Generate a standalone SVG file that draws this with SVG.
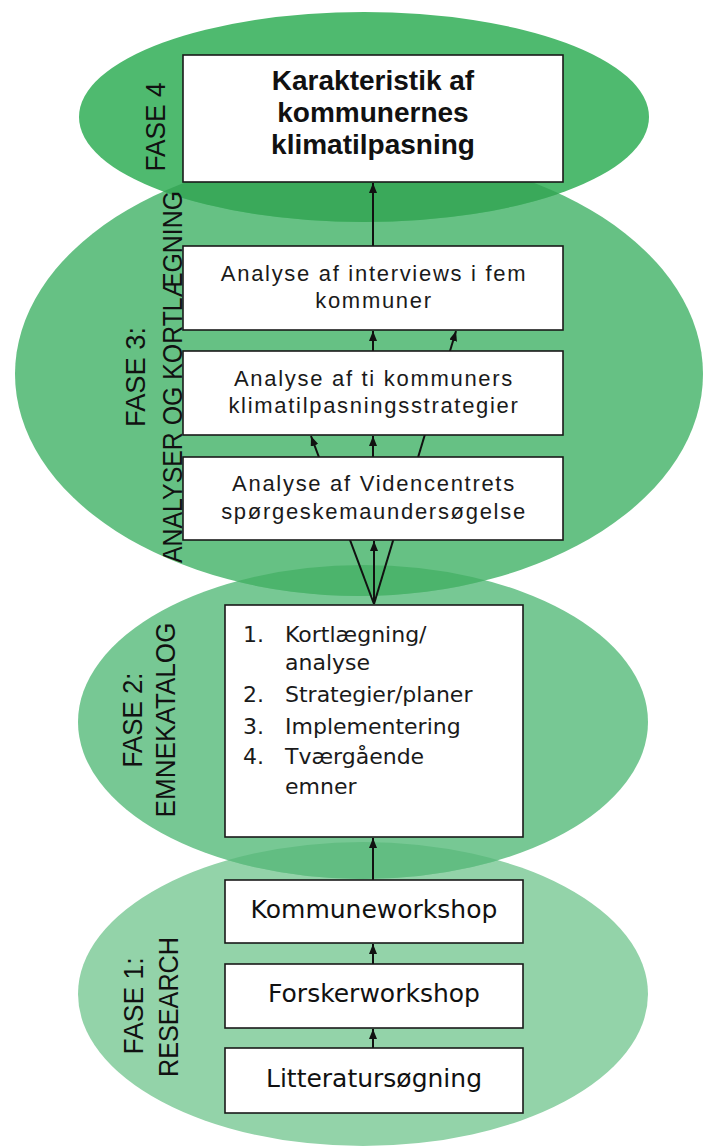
<svg xmlns="http://www.w3.org/2000/svg" width="704" height="1148" viewBox="0 0 704 1148">
<style>
.box{fill:#ffffff;stroke:#1a1a1a;stroke-width:1.6}
.conn{stroke:#111111;stroke-width:2;fill:none;marker-end:url(#ah)}
.t3{font-family:"Liberation Sans",Arial,sans-serif;font-size:22px;letter-spacing:1.7px;fill:#1a1a1a;text-anchor:middle}
.t4{font-family:"Liberation Sans",Arial,sans-serif;font-size:28px;font-weight:bold;fill:#111111;text-anchor:middle}
.t2{font-family:"DejaVu Sans",Verdana,sans-serif;font-size:22px;fill:#1a1a1a}
.t1{font-family:"DejaVu Sans",Verdana,sans-serif;font-size:25px;fill:#111111;text-anchor:middle}
.lab{font-family:"Liberation Sans",Arial,sans-serif;font-size:28px;fill:#111111;text-anchor:middle}
</style>
<defs>
<marker id="ah" viewBox="0 0 10 8" refX="10" refY="4" markerWidth="10" markerHeight="8" markerUnits="userSpaceOnUse" orient="auto">
<path d="M0,0 L10,4 L0,8 z" fill="#111111"/>
</marker>
<clipPath id="cE3"><ellipse cx="359" cy="374" rx="344" ry="222"/></clipPath>
<clipPath id="cE2"><ellipse cx="363" cy="722" rx="285" ry="157"/></clipPath>
</defs>
<rect width="704" height="1148" fill="#ffffff"/>
<g id="phases">
<ellipse id="phase1" cx="363" cy="994" rx="285" ry="152" fill="#93d3a9"/>
<ellipse id="phase2" cx="363" cy="722" rx="285" ry="157" fill="#77c894"/>
<ellipse id="phase3" cx="359" cy="374" rx="344" ry="222" fill="#66c184"/>
<ellipse id="phase4" cx="364" cy="117" rx="285" ry="105" fill="#4fba6f"/>
<ellipse cx="363" cy="994" rx="285" ry="152" fill="#62bd82" clip-path="url(#cE2)"/>
<ellipse cx="363" cy="722" rx="285" ry="157" fill="#4cb46c" clip-path="url(#cE3)"/>
<ellipse cx="364" cy="117" rx="285" ry="105" fill="#3aa95a" clip-path="url(#cE3)"/>
</g>
<g id="phase-labels">
<text class="lab" transform="translate(165,127) rotate(-90)" textLength="89" lengthAdjust="spacingAndGlyphs">FASE 4</text>
<text class="lab" transform="translate(145,377) rotate(-90)" textLength="100" lengthAdjust="spacingAndGlyphs">FASE 3:</text>
<text class="lab" transform="translate(182,377) rotate(-90)" textLength="372" lengthAdjust="spacingAndGlyphs">ANALYSER OG KORTLÆGNING</text>
<text class="lab" transform="translate(142,720) rotate(-90)" textLength="95" lengthAdjust="spacingAndGlyphs">FASE 2:</text>
<text class="lab" transform="translate(175,720) rotate(-90)" textLength="195" lengthAdjust="spacingAndGlyphs">EMNEKATALOG</text>
<text class="lab" transform="translate(143,1006) rotate(-90)" textLength="97" lengthAdjust="spacingAndGlyphs">FASE 1:</text>
<text class="lab" transform="translate(178,1007) rotate(-90)" textLength="140" lengthAdjust="spacingAndGlyphs">RESEARCH</text>
</g>
<g id="connectors">
<line class="conn" x1="373" y1="246" x2="373" y2="183"/>
<line class="conn" x1="373" y1="351" x2="373" y2="331"/>
<line class="conn" x1="373" y1="457" x2="373" y2="436"/>
<line class="conn" x1="374" y1="604" x2="374" y2="541"/>
<line class="conn" x1="374" y1="604" x2="311" y2="436"/>
<line class="conn" x1="374" y1="604" x2="456" y2="331"/>
<line class="conn" x1="373" y1="880" x2="373" y2="838"/>
<line class="conn" x1="373" y1="964" x2="373" y2="944"/>
<line class="conn" x1="373" y1="1048" x2="373" y2="1029"/>
</g>
<g id="node-karakteristik">
<rect class="box" x="183" y="55" width="380" height="127"/>
<text class="t4" x="373" y="90">Karakteristik af</text>
<text class="t4" x="373" y="122">kommunernes</text>
<text class="t4" x="373" y="154">klimatilpasning</text>
</g>
<g id="node-interviews">
<rect class="box" x="183" y="246" width="380" height="84"/>
<text class="t3" x="374" y="281">Analyse af interviews i fem</text>
<text class="t3" x="374" y="308">kommuner</text>
</g>
<g id="node-strategier">
<rect class="box" x="183" y="351" width="380" height="84"/>
<text class="t3" x="374" y="386">Analyse af ti kommuners</text>
<text class="t3" x="374" y="413">klimatilpasningsstrategier</text>
</g>
<g id="node-spoergeskema">
<rect class="box" x="183" y="457" width="380" height="83"/>
<text class="t3" x="374" y="491">Analyse af Videncentrets</text>
<text class="t3" x="374" y="519">spørgeskemaundersøgelse</text>
</g>
<g id="node-emnekatalog">
<rect class="box" x="225" y="605" width="298" height="232"/>
<text class="t2" x="243" y="642">1.</text>
<text class="t2" x="285" y="642">Kortlægning/</text>
<text class="t2" x="285" y="670">analyse</text>
<text class="t2" x="243" y="702">2.</text>
<text class="t2" x="285" y="702">Strategier/planer</text>
<text class="t2" x="243" y="734">3.</text>
<text class="t2" x="285" y="734">Implementering</text>
<text class="t2" x="243" y="764">4.</text>
<text class="t2" x="285" y="764">Tværgående</text>
<text class="t2" x="285" y="794">emner</text>
</g>
<g id="node-kommuneworkshop">
<rect class="box" x="225" y="880" width="298" height="63"/>
<text class="t1" x="374" y="918">Kommuneworkshop</text>
</g>
<g id="node-forskerworkshop">
<rect class="box" x="225" y="964" width="298" height="64"/>
<text class="t1" x="374" y="1002">Forskerworkshop</text>
</g>
<g id="node-litteratur">
<rect class="box" x="225" y="1048" width="298" height="65"/>
<text class="t1" x="374" y="1087">Litteratursøgning</text>
</g>
</svg>
